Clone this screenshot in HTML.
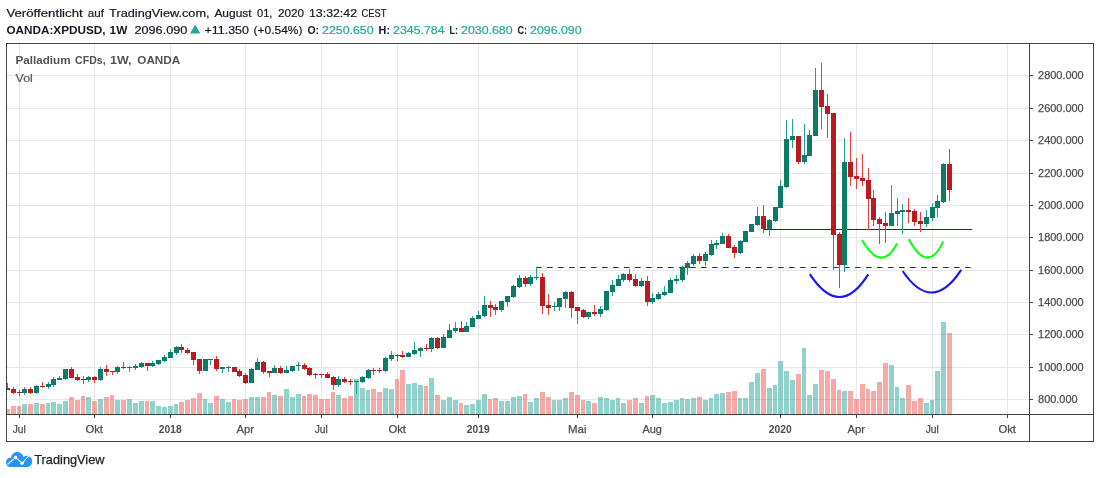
<!DOCTYPE html>
<html lang="de"><head><meta charset="utf-8"><title>Palladium CFDs, 1W, OANDA</title>
<style>html,body{margin:0;padding:0;background:#fff}body{width:1100px;height:478px;overflow:hidden}</style>
</head><body>
<svg width="1100" height="478" viewBox="0 0 1100 478" style="display:block;font-family:'Liberation Sans', sans-serif;will-change:transform">
<rect width="1100" height="478" fill="#fff"/>
<g fill="#e7e7e7" shape-rendering="crispEdges">
<rect x="7" y="75" width="1022" height="1"/>
<rect x="7" y="108" width="1022" height="1"/>
<rect x="7" y="140" width="1022" height="1"/>
<rect x="7" y="173" width="1022" height="1"/>
<rect x="7" y="205" width="1022" height="1"/>
<rect x="7" y="237" width="1022" height="1"/>
<rect x="7" y="270" width="1022" height="1"/>
<rect x="7" y="302" width="1022" height="1"/>
<rect x="7" y="334" width="1022" height="1"/>
<rect x="7" y="367" width="1022" height="1"/>
<rect x="7" y="399" width="1022" height="1"/>
<rect x="19" y="44" width="1" height="370"/>
<rect x="94" y="44" width="1" height="370"/>
<rect x="170" y="44" width="1" height="370"/>
<rect x="245" y="44" width="1" height="370"/>
<rect x="321" y="44" width="1" height="370"/>
<rect x="397" y="44" width="1" height="370"/>
<rect x="478" y="44" width="1" height="370"/>
<rect x="577" y="44" width="1" height="370"/>
<rect x="652" y="44" width="1" height="370"/>
<rect x="780" y="44" width="1" height="370"/>
<rect x="856" y="44" width="1" height="370"/>
<rect x="932" y="44" width="1" height="370"/>
<rect x="1007" y="44" width="1" height="370"/>
</g>
<g shape-rendering="crispEdges">
<rect x="7" y="409" width="3" height="5" fill="rgba(239,83,80,0.5)"/>
<rect x="11" y="406" width="5" height="8" fill="rgba(239,83,80,0.5)"/>
<rect x="17" y="406" width="4" height="8" fill="rgba(239,83,80,0.5)"/>
<rect x="22" y="404" width="5" height="10" fill="rgba(38,166,154,0.5)"/>
<rect x="28" y="404" width="5" height="10" fill="rgba(239,83,80,0.5)"/>
<rect x="34" y="403" width="5" height="11" fill="rgba(38,166,154,0.5)"/>
<rect x="40" y="404" width="5" height="10" fill="rgba(239,83,80,0.5)"/>
<rect x="46" y="403" width="4" height="11" fill="rgba(38,166,154,0.5)"/>
<rect x="51" y="402" width="5" height="12" fill="rgba(38,166,154,0.5)"/>
<rect x="57" y="404" width="5" height="10" fill="rgba(38,166,154,0.5)"/>
<rect x="63" y="401" width="5" height="13" fill="rgba(38,166,154,0.5)"/>
<rect x="69" y="397" width="5" height="17" fill="rgba(239,83,80,0.5)"/>
<rect x="75" y="400" width="5" height="14" fill="rgba(239,83,80,0.5)"/>
<rect x="81" y="396" width="4" height="18" fill="rgba(239,83,80,0.5)"/>
<rect x="86" y="397" width="5" height="17" fill="rgba(38,166,154,0.5)"/>
<rect x="92" y="401" width="5" height="13" fill="rgba(239,83,80,0.5)"/>
<rect x="98" y="399" width="5" height="15" fill="rgba(38,166,154,0.5)"/>
<rect x="104" y="397" width="5" height="17" fill="rgba(239,83,80,0.5)"/>
<rect x="110" y="395" width="4" height="19" fill="rgba(239,83,80,0.5)"/>
<rect x="115" y="400" width="5" height="14" fill="rgba(38,166,154,0.5)"/>
<rect x="121" y="400" width="5" height="14" fill="rgba(239,83,80,0.5)"/>
<rect x="127" y="399" width="5" height="15" fill="rgba(38,166,154,0.5)"/>
<rect x="133" y="403" width="5" height="11" fill="rgba(38,166,154,0.5)"/>
<rect x="139" y="401" width="5" height="13" fill="rgba(38,166,154,0.5)"/>
<rect x="145" y="401" width="4" height="13" fill="rgba(239,83,80,0.5)"/>
<rect x="150" y="401" width="5" height="13" fill="rgba(38,166,154,0.5)"/>
<rect x="156" y="406" width="5" height="8" fill="rgba(38,166,154,0.5)"/>
<rect x="162" y="407" width="5" height="7" fill="rgba(38,166,154,0.5)"/>
<rect x="168" y="406" width="5" height="8" fill="rgba(38,166,154,0.5)"/>
<rect x="174" y="404" width="4" height="10" fill="rgba(38,166,154,0.5)"/>
<rect x="179" y="402" width="5" height="12" fill="rgba(239,83,80,0.5)"/>
<rect x="185" y="400" width="5" height="14" fill="rgba(239,83,80,0.5)"/>
<rect x="191" y="398" width="5" height="16" fill="rgba(239,83,80,0.5)"/>
<rect x="197" y="393" width="5" height="21" fill="rgba(239,83,80,0.5)"/>
<rect x="203" y="399" width="4" height="15" fill="rgba(38,166,154,0.5)"/>
<rect x="208" y="403" width="5" height="11" fill="rgba(38,166,154,0.5)"/>
<rect x="214" y="396" width="5" height="18" fill="rgba(239,83,80,0.5)"/>
<rect x="220" y="399" width="5" height="15" fill="rgba(38,166,154,0.5)"/>
<rect x="226" y="402" width="5" height="12" fill="rgba(38,166,154,0.5)"/>
<rect x="232" y="399" width="4" height="15" fill="rgba(239,83,80,0.5)"/>
<rect x="237" y="400" width="5" height="14" fill="rgba(239,83,80,0.5)"/>
<rect x="243" y="399" width="5" height="15" fill="rgba(239,83,80,0.5)"/>
<rect x="249" y="397" width="5" height="17" fill="rgba(38,166,154,0.5)"/>
<rect x="255" y="397" width="5" height="17" fill="rgba(38,166,154,0.5)"/>
<rect x="261" y="397" width="5" height="17" fill="rgba(239,83,80,0.5)"/>
<rect x="267" y="392" width="4" height="22" fill="rgba(239,83,80,0.5)"/>
<rect x="272" y="395" width="5" height="19" fill="rgba(38,166,154,0.5)"/>
<rect x="278" y="396" width="5" height="18" fill="rgba(239,83,80,0.5)"/>
<rect x="284" y="389" width="5" height="25" fill="rgba(38,166,154,0.5)"/>
<rect x="290" y="397" width="5" height="17" fill="rgba(38,166,154,0.5)"/>
<rect x="296" y="394" width="5" height="20" fill="rgba(38,166,154,0.5)"/>
<rect x="302" y="396" width="4" height="18" fill="rgba(239,83,80,0.5)"/>
<rect x="307" y="394" width="5" height="20" fill="rgba(239,83,80,0.5)"/>
<rect x="313" y="395" width="5" height="19" fill="rgba(239,83,80,0.5)"/>
<rect x="319" y="399" width="5" height="15" fill="rgba(239,83,80,0.5)"/>
<rect x="325" y="399" width="5" height="15" fill="rgba(239,83,80,0.5)"/>
<rect x="331" y="392" width="4" height="22" fill="rgba(239,83,80,0.5)"/>
<rect x="336" y="395" width="5" height="19" fill="rgba(38,166,154,0.5)"/>
<rect x="342" y="398" width="5" height="16" fill="rgba(239,83,80,0.5)"/>
<rect x="348" y="396" width="5" height="18" fill="rgba(239,83,80,0.5)"/>
<rect x="354" y="379" width="5" height="35" fill="rgba(38,166,154,0.5)"/>
<rect x="360" y="388" width="5" height="26" fill="rgba(38,166,154,0.5)"/>
<rect x="366" y="390" width="4" height="24" fill="rgba(38,166,154,0.5)"/>
<rect x="371" y="389" width="5" height="25" fill="rgba(239,83,80,0.5)"/>
<rect x="377" y="392" width="5" height="22" fill="rgba(239,83,80,0.5)"/>
<rect x="383" y="388" width="5" height="26" fill="rgba(38,166,154,0.5)"/>
<rect x="389" y="389" width="5" height="25" fill="rgba(38,166,154,0.5)"/>
<rect x="395" y="379" width="4" height="35" fill="rgba(239,83,80,0.5)"/>
<rect x="400" y="370" width="5" height="44" fill="rgba(239,83,80,0.5)"/>
<rect x="406" y="384" width="5" height="30" fill="rgba(38,166,154,0.5)"/>
<rect x="412" y="383" width="5" height="31" fill="rgba(38,166,154,0.5)"/>
<rect x="418" y="385" width="5" height="29" fill="rgba(38,166,154,0.5)"/>
<rect x="424" y="386" width="4" height="28" fill="rgba(239,83,80,0.5)"/>
<rect x="429" y="378" width="5" height="36" fill="rgba(38,166,154,0.5)"/>
<rect x="435" y="395" width="5" height="19" fill="rgba(239,83,80,0.5)"/>
<rect x="441" y="400" width="5" height="14" fill="rgba(38,166,154,0.5)"/>
<rect x="447" y="397" width="5" height="17" fill="rgba(38,166,154,0.5)"/>
<rect x="453" y="400" width="5" height="14" fill="rgba(38,166,154,0.5)"/>
<rect x="459" y="403" width="4" height="11" fill="rgba(239,83,80,0.5)"/>
<rect x="464" y="405" width="5" height="9" fill="rgba(38,166,154,0.5)"/>
<rect x="470" y="404" width="5" height="10" fill="rgba(38,166,154,0.5)"/>
<rect x="476" y="400" width="5" height="14" fill="rgba(38,166,154,0.5)"/>
<rect x="482" y="394" width="5" height="20" fill="rgba(38,166,154,0.5)"/>
<rect x="488" y="399" width="4" height="15" fill="rgba(239,83,80,0.5)"/>
<rect x="493" y="398" width="5" height="16" fill="rgba(239,83,80,0.5)"/>
<rect x="499" y="401" width="5" height="13" fill="rgba(38,166,154,0.5)"/>
<rect x="505" y="401" width="5" height="13" fill="rgba(38,166,154,0.5)"/>
<rect x="511" y="397" width="5" height="17" fill="rgba(38,166,154,0.5)"/>
<rect x="517" y="396" width="5" height="18" fill="rgba(38,166,154,0.5)"/>
<rect x="523" y="394" width="4" height="20" fill="rgba(239,83,80,0.5)"/>
<rect x="528" y="402" width="5" height="12" fill="rgba(38,166,154,0.5)"/>
<rect x="534" y="398" width="5" height="16" fill="rgba(38,166,154,0.5)"/>
<rect x="540" y="392" width="5" height="22" fill="rgba(239,83,80,0.5)"/>
<rect x="546" y="397" width="5" height="17" fill="rgba(239,83,80,0.5)"/>
<rect x="552" y="400" width="4" height="14" fill="rgba(38,166,154,0.5)"/>
<rect x="557" y="400" width="5" height="14" fill="rgba(38,166,154,0.5)"/>
<rect x="563" y="398" width="5" height="16" fill="rgba(38,166,154,0.5)"/>
<rect x="569" y="392" width="5" height="22" fill="rgba(239,83,80,0.5)"/>
<rect x="575" y="395" width="5" height="19" fill="rgba(239,83,80,0.5)"/>
<rect x="581" y="400" width="4" height="14" fill="rgba(239,83,80,0.5)"/>
<rect x="586" y="401" width="5" height="13" fill="rgba(38,166,154,0.5)"/>
<rect x="592" y="403" width="5" height="11" fill="rgba(239,83,80,0.5)"/>
<rect x="598" y="397" width="5" height="17" fill="rgba(38,166,154,0.5)"/>
<rect x="604" y="398" width="5" height="16" fill="rgba(38,166,154,0.5)"/>
<rect x="610" y="400" width="5" height="14" fill="rgba(38,166,154,0.5)"/>
<rect x="616" y="398" width="4" height="16" fill="rgba(38,166,154,0.5)"/>
<rect x="621" y="403" width="5" height="11" fill="rgba(38,166,154,0.5)"/>
<rect x="627" y="400" width="5" height="14" fill="rgba(239,83,80,0.5)"/>
<rect x="633" y="398" width="5" height="16" fill="rgba(239,83,80,0.5)"/>
<rect x="639" y="403" width="5" height="11" fill="rgba(38,166,154,0.5)"/>
<rect x="645" y="396" width="4" height="18" fill="rgba(239,83,80,0.5)"/>
<rect x="650" y="395" width="5" height="19" fill="rgba(38,166,154,0.5)"/>
<rect x="656" y="398" width="5" height="16" fill="rgba(38,166,154,0.5)"/>
<rect x="662" y="403" width="5" height="11" fill="rgba(38,166,154,0.5)"/>
<rect x="668" y="402" width="5" height="12" fill="rgba(38,166,154,0.5)"/>
<rect x="674" y="400" width="5" height="14" fill="rgba(38,166,154,0.5)"/>
<rect x="680" y="398" width="4" height="16" fill="rgba(38,166,154,0.5)"/>
<rect x="685" y="399" width="5" height="15" fill="rgba(38,166,154,0.5)"/>
<rect x="691" y="398" width="5" height="16" fill="rgba(38,166,154,0.5)"/>
<rect x="697" y="397" width="5" height="17" fill="rgba(239,83,80,0.5)"/>
<rect x="703" y="400" width="5" height="14" fill="rgba(38,166,154,0.5)"/>
<rect x="709" y="398" width="4" height="16" fill="rgba(38,166,154,0.5)"/>
<rect x="714" y="394" width="5" height="20" fill="rgba(38,166,154,0.5)"/>
<rect x="720" y="393" width="5" height="21" fill="rgba(38,166,154,0.5)"/>
<rect x="726" y="392" width="5" height="22" fill="rgba(239,83,80,0.5)"/>
<rect x="732" y="391" width="5" height="23" fill="rgba(239,83,80,0.5)"/>
<rect x="738" y="398" width="4" height="16" fill="rgba(38,166,154,0.5)"/>
<rect x="743" y="398" width="5" height="16" fill="rgba(38,166,154,0.5)"/>
<rect x="749" y="382" width="5" height="32" fill="rgba(38,166,154,0.5)"/>
<rect x="755" y="373" width="5" height="41" fill="rgba(38,166,154,0.5)"/>
<rect x="761" y="369" width="5" height="45" fill="rgba(239,83,80,0.5)"/>
<rect x="767" y="388" width="5" height="26" fill="rgba(38,166,154,0.5)"/>
<rect x="773" y="385" width="4" height="29" fill="rgba(38,166,154,0.5)"/>
<rect x="778" y="361" width="5" height="53" fill="rgba(38,166,154,0.5)"/>
<rect x="784" y="371" width="5" height="43" fill="rgba(38,166,154,0.5)"/>
<rect x="790" y="380" width="5" height="34" fill="rgba(38,166,154,0.5)"/>
<rect x="796" y="374" width="5" height="40" fill="rgba(239,83,80,0.5)"/>
<rect x="802" y="348" width="4" height="66" fill="rgba(38,166,154,0.5)"/>
<rect x="807" y="395" width="5" height="19" fill="rgba(38,166,154,0.5)"/>
<rect x="813" y="384" width="5" height="30" fill="rgba(38,166,154,0.5)"/>
<rect x="819" y="370" width="5" height="44" fill="rgba(239,83,80,0.5)"/>
<rect x="825" y="371" width="5" height="43" fill="rgba(239,83,80,0.5)"/>
<rect x="831" y="379" width="5" height="35" fill="rgba(239,83,80,0.5)"/>
<rect x="837" y="390" width="4" height="24" fill="rgba(239,83,80,0.5)"/>
<rect x="842" y="391" width="5" height="23" fill="rgba(38,166,154,0.5)"/>
<rect x="848" y="391" width="5" height="23" fill="rgba(239,83,80,0.5)"/>
<rect x="854" y="399" width="5" height="15" fill="rgba(239,83,80,0.5)"/>
<rect x="860" y="384" width="5" height="30" fill="rgba(239,83,80,0.5)"/>
<rect x="866" y="389" width="4" height="25" fill="rgba(239,83,80,0.5)"/>
<rect x="871" y="391" width="5" height="23" fill="rgba(239,83,80,0.5)"/>
<rect x="877" y="382" width="5" height="32" fill="rgba(239,83,80,0.5)"/>
<rect x="883" y="363" width="5" height="51" fill="rgba(239,83,80,0.5)"/>
<rect x="889" y="365" width="5" height="49" fill="rgba(38,166,154,0.5)"/>
<rect x="895" y="387" width="4" height="27" fill="rgba(38,166,154,0.5)"/>
<rect x="900" y="398" width="5" height="16" fill="rgba(38,166,154,0.5)"/>
<rect x="906" y="385" width="5" height="29" fill="rgba(239,83,80,0.5)"/>
<rect x="912" y="401" width="5" height="13" fill="rgba(239,83,80,0.5)"/>
<rect x="918" y="398" width="5" height="16" fill="rgba(239,83,80,0.5)"/>
<rect x="924" y="403" width="5" height="11" fill="rgba(38,166,154,0.5)"/>
<rect x="930" y="400" width="4" height="14" fill="rgba(38,166,154,0.5)"/>
<rect x="935" y="371" width="5" height="43" fill="rgba(38,166,154,0.5)"/>
<rect x="941" y="322" width="5" height="92" fill="rgba(38,166,154,0.5)"/>
<rect x="947" y="333" width="5" height="81" fill="rgba(239,83,80,0.5)"/>
</g>
<line x1="536" y1="267.5" x2="971" y2="267.5" stroke="#1414ff" stroke-width="1.2" stroke-dasharray="5.6 5.4"/>
<line x1="763.5" y1="229.5" x2="972.3" y2="229.5" stroke="#1414ff" stroke-width="1.15"/>
<path d="M809.8 274.1 Q839.8 319.8 868.2 274.4" fill="none" stroke="#1414ff" stroke-width="2.1" stroke-linecap="butt"/>
<path d="M902.6 271.0 Q931.9 314.6 961.2 269.9" fill="none" stroke="#1414ff" stroke-width="2.1" stroke-linecap="butt"/>
<path d="M862.0 240.1 Q881.2 273.5 897.1 243.4" fill="none" stroke="#14ff14" stroke-width="2.1" stroke-linecap="butt"/>
<path d="M908.8 239.2 Q927.8 274.9 943.3 241.4" fill="none" stroke="#14ff14" stroke-width="2.1" stroke-linecap="butt"/>
<g shape-rendering="crispEdges">
<rect x="7" y="383" width="1" height="7" fill="#ef3b3b"/>
<rect x="7" y="388" width="3" height="2" fill="#bb1a1e"/>
<rect x="13" y="387" width="1" height="7" fill="#ef3b3b"/>
<rect x="11" y="389" width="5" height="4" fill="#bb1a1e"/>
<rect x="19" y="390" width="1" height="6" fill="#ef3b3b"/>
<rect x="17" y="392" width="5" height="1" fill="#bb1a1e"/>
<rect x="24" y="387" width="1" height="8" fill="#20a093"/>
<rect x="22" y="389" width="5" height="4" fill="#0b7c68"/>
<rect x="30" y="387" width="1" height="7" fill="#ef3b3b"/>
<rect x="28" y="389" width="5" height="4" fill="#bb1a1e"/>
<rect x="36" y="385" width="1" height="9" fill="#20a093"/>
<rect x="34" y="386" width="5" height="7" fill="#0b7c68"/>
<rect x="42" y="382" width="1" height="6" fill="#ef3b3b"/>
<rect x="40" y="386" width="5" height="1" fill="#bb1a1e"/>
<rect x="48" y="382" width="1" height="7" fill="#20a093"/>
<rect x="46" y="384" width="5" height="3" fill="#0b7c68"/>
<rect x="53" y="377" width="1" height="10" fill="#20a093"/>
<rect x="51" y="379" width="5" height="6" fill="#0b7c68"/>
<rect x="59" y="376" width="1" height="4" fill="#20a093"/>
<rect x="57" y="378" width="5" height="2" fill="#0b7c68"/>
<rect x="65" y="369" width="1" height="11" fill="#20a093"/>
<rect x="63" y="369" width="5" height="10" fill="#0b7c68"/>
<rect x="71" y="367" width="1" height="11" fill="#ef3b3b"/>
<rect x="69" y="369" width="5" height="9" fill="#bb1a1e"/>
<rect x="77" y="374" width="1" height="7" fill="#ef3b3b"/>
<rect x="75" y="377" width="5" height="3" fill="#bb1a1e"/>
<rect x="83" y="376" width="1" height="8" fill="#ef3b3b"/>
<rect x="81" y="379" width="5" height="1" fill="#bb1a1e"/>
<rect x="88" y="376" width="1" height="6" fill="#20a093"/>
<rect x="86" y="377" width="5" height="3" fill="#0b7c68"/>
<rect x="94" y="376" width="1" height="7" fill="#ef3b3b"/>
<rect x="92" y="377" width="5" height="3" fill="#bb1a1e"/>
<rect x="100" y="367" width="1" height="14" fill="#20a093"/>
<rect x="98" y="369" width="5" height="11" fill="#0b7c68"/>
<rect x="106" y="365" width="1" height="11" fill="#ef3b3b"/>
<rect x="104" y="369" width="5" height="3" fill="#bb1a1e"/>
<rect x="112" y="371" width="1" height="4" fill="#ef3b3b"/>
<rect x="110" y="371" width="5" height="1" fill="#bb1a1e"/>
<rect x="117" y="366" width="1" height="8" fill="#20a093"/>
<rect x="115" y="367" width="5" height="5" fill="#0b7c68"/>
<rect x="123" y="362" width="1" height="7" fill="#ef3b3b"/>
<rect x="121" y="367" width="5" height="1" fill="#bb1a1e"/>
<rect x="129" y="366" width="1" height="6" fill="#20a093"/>
<rect x="127" y="367" width="5" height="1" fill="#0b7c68"/>
<rect x="135" y="364" width="1" height="6" fill="#20a093"/>
<rect x="133" y="366" width="5" height="2" fill="#0b7c68"/>
<rect x="141" y="362" width="1" height="6" fill="#20a093"/>
<rect x="139" y="363" width="5" height="4" fill="#0b7c68"/>
<rect x="147" y="363" width="1" height="8" fill="#ef3b3b"/>
<rect x="145" y="363" width="5" height="3" fill="#bb1a1e"/>
<rect x="152" y="361" width="1" height="6" fill="#20a093"/>
<rect x="150" y="363" width="5" height="3" fill="#0b7c68"/>
<rect x="158" y="360" width="1" height="5" fill="#20a093"/>
<rect x="156" y="360" width="5" height="4" fill="#0b7c68"/>
<rect x="164" y="355" width="1" height="7" fill="#20a093"/>
<rect x="162" y="357" width="5" height="4" fill="#0b7c68"/>
<rect x="170" y="349" width="1" height="9" fill="#20a093"/>
<rect x="168" y="352" width="5" height="6" fill="#0b7c68"/>
<rect x="176" y="346" width="1" height="9" fill="#20a093"/>
<rect x="174" y="347" width="5" height="6" fill="#0b7c68"/>
<rect x="181" y="344" width="1" height="9" fill="#ef3b3b"/>
<rect x="179" y="347" width="5" height="3" fill="#bb1a1e"/>
<rect x="187" y="348" width="1" height="6" fill="#ef3b3b"/>
<rect x="185" y="350" width="5" height="3" fill="#bb1a1e"/>
<rect x="193" y="352" width="1" height="13" fill="#ef3b3b"/>
<rect x="191" y="352" width="5" height="8" fill="#bb1a1e"/>
<rect x="199" y="359" width="1" height="15" fill="#ef3b3b"/>
<rect x="197" y="359" width="5" height="12" fill="#bb1a1e"/>
<rect x="205" y="359" width="1" height="12" fill="#20a093"/>
<rect x="203" y="359" width="5" height="12" fill="#0b7c68"/>
<rect x="210" y="359" width="1" height="6" fill="#20a093"/>
<rect x="208" y="359" width="5" height="1" fill="#0b7c68"/>
<rect x="216" y="356" width="1" height="15" fill="#ef3b3b"/>
<rect x="214" y="359" width="5" height="10" fill="#bb1a1e"/>
<rect x="222" y="367" width="1" height="6" fill="#20a093"/>
<rect x="220" y="367" width="5" height="2" fill="#0b7c68"/>
<rect x="228" y="366" width="1" height="6" fill="#20a093"/>
<rect x="226" y="367" width="5" height="1" fill="#0b7c68"/>
<rect x="234" y="367" width="1" height="5" fill="#ef3b3b"/>
<rect x="232" y="367" width="5" height="5" fill="#bb1a1e"/>
<rect x="239" y="369" width="1" height="8" fill="#ef3b3b"/>
<rect x="237" y="371" width="5" height="5" fill="#bb1a1e"/>
<rect x="245" y="373" width="1" height="11" fill="#ef3b3b"/>
<rect x="243" y="375" width="5" height="8" fill="#bb1a1e"/>
<rect x="251" y="368" width="1" height="15" fill="#20a093"/>
<rect x="249" y="369" width="5" height="14" fill="#0b7c68"/>
<rect x="257" y="358" width="1" height="12" fill="#20a093"/>
<rect x="255" y="362" width="5" height="8" fill="#0b7c68"/>
<rect x="263" y="361" width="1" height="13" fill="#ef3b3b"/>
<rect x="261" y="362" width="5" height="10" fill="#bb1a1e"/>
<rect x="269" y="371" width="1" height="6" fill="#ef3b3b"/>
<rect x="267" y="371" width="5" height="2" fill="#bb1a1e"/>
<rect x="274" y="365" width="1" height="8" fill="#20a093"/>
<rect x="272" y="368" width="5" height="5" fill="#0b7c68"/>
<rect x="280" y="366" width="1" height="8" fill="#ef3b3b"/>
<rect x="278" y="368" width="5" height="5" fill="#bb1a1e"/>
<rect x="286" y="366" width="1" height="7" fill="#20a093"/>
<rect x="284" y="370" width="5" height="3" fill="#0b7c68"/>
<rect x="292" y="366" width="1" height="6" fill="#20a093"/>
<rect x="290" y="366" width="5" height="5" fill="#0b7c68"/>
<rect x="298" y="362" width="1" height="9" fill="#20a093"/>
<rect x="296" y="365" width="5" height="1" fill="#0b7c68"/>
<rect x="304" y="363" width="1" height="7" fill="#ef3b3b"/>
<rect x="302" y="365" width="5" height="4" fill="#bb1a1e"/>
<rect x="309" y="367" width="1" height="9" fill="#ef3b3b"/>
<rect x="307" y="368" width="5" height="7" fill="#bb1a1e"/>
<rect x="315" y="373" width="1" height="6" fill="#ef3b3b"/>
<rect x="313" y="374" width="5" height="1" fill="#bb1a1e"/>
<rect x="321" y="374" width="1" height="4" fill="#ef3b3b"/>
<rect x="319" y="374" width="5" height="1" fill="#bb1a1e"/>
<rect x="327" y="372" width="1" height="6" fill="#ef3b3b"/>
<rect x="325" y="374" width="5" height="4" fill="#bb1a1e"/>
<rect x="333" y="376" width="1" height="14" fill="#ef3b3b"/>
<rect x="331" y="377" width="5" height="8" fill="#bb1a1e"/>
<rect x="338" y="376" width="1" height="11" fill="#20a093"/>
<rect x="336" y="379" width="5" height="6" fill="#0b7c68"/>
<rect x="344" y="377" width="1" height="6" fill="#ef3b3b"/>
<rect x="342" y="379" width="5" height="3" fill="#bb1a1e"/>
<rect x="350" y="379" width="1" height="6" fill="#ef3b3b"/>
<rect x="348" y="381" width="5" height="1" fill="#bb1a1e"/>
<rect x="356" y="381" width="1" height="13" fill="#20a093"/>
<rect x="354" y="381" width="5" height="1" fill="#0b7c68"/>
<rect x="362" y="376" width="1" height="7" fill="#20a093"/>
<rect x="360" y="377" width="5" height="5" fill="#0b7c68"/>
<rect x="368" y="369" width="1" height="10" fill="#20a093"/>
<rect x="366" y="370" width="5" height="8" fill="#0b7c68"/>
<rect x="373" y="368" width="1" height="7" fill="#ef3b3b"/>
<rect x="371" y="370" width="5" height="1" fill="#bb1a1e"/>
<rect x="379" y="368" width="1" height="5" fill="#ef3b3b"/>
<rect x="377" y="370" width="5" height="1" fill="#bb1a1e"/>
<rect x="385" y="357" width="1" height="15" fill="#20a093"/>
<rect x="383" y="358" width="5" height="13" fill="#0b7c68"/>
<rect x="391" y="351" width="1" height="10" fill="#20a093"/>
<rect x="389" y="355" width="5" height="4" fill="#0b7c68"/>
<rect x="397" y="354" width="1" height="7" fill="#ef3b3b"/>
<rect x="395" y="355" width="5" height="1" fill="#bb1a1e"/>
<rect x="402" y="351" width="1" height="7" fill="#ef3b3b"/>
<rect x="400" y="355" width="5" height="2" fill="#bb1a1e"/>
<rect x="408" y="352" width="1" height="5" fill="#20a093"/>
<rect x="406" y="353" width="5" height="4" fill="#0b7c68"/>
<rect x="414" y="342" width="1" height="13" fill="#20a093"/>
<rect x="412" y="350" width="5" height="4" fill="#0b7c68"/>
<rect x="420" y="347" width="1" height="10" fill="#20a093"/>
<rect x="418" y="348" width="5" height="3" fill="#0b7c68"/>
<rect x="426" y="344" width="1" height="7" fill="#ef3b3b"/>
<rect x="424" y="348" width="5" height="1" fill="#bb1a1e"/>
<rect x="431" y="337" width="1" height="15" fill="#20a093"/>
<rect x="429" y="338" width="5" height="11" fill="#0b7c68"/>
<rect x="437" y="337" width="1" height="12" fill="#ef3b3b"/>
<rect x="435" y="338" width="5" height="10" fill="#bb1a1e"/>
<rect x="443" y="334" width="1" height="14" fill="#20a093"/>
<rect x="441" y="337" width="5" height="11" fill="#0b7c68"/>
<rect x="449" y="324" width="1" height="14" fill="#20a093"/>
<rect x="447" y="330" width="5" height="8" fill="#0b7c68"/>
<rect x="455" y="322" width="1" height="11" fill="#20a093"/>
<rect x="453" y="328" width="5" height="3" fill="#0b7c68"/>
<rect x="461" y="321" width="1" height="11" fill="#ef3b3b"/>
<rect x="459" y="328" width="5" height="4" fill="#bb1a1e"/>
<rect x="466" y="322" width="1" height="10" fill="#20a093"/>
<rect x="464" y="326" width="5" height="6" fill="#0b7c68"/>
<rect x="472" y="316" width="1" height="11" fill="#20a093"/>
<rect x="470" y="318" width="5" height="9" fill="#0b7c68"/>
<rect x="478" y="311" width="1" height="8" fill="#20a093"/>
<rect x="476" y="315" width="5" height="4" fill="#0b7c68"/>
<rect x="484" y="296" width="1" height="21" fill="#20a093"/>
<rect x="482" y="305" width="5" height="11" fill="#0b7c68"/>
<rect x="490" y="301" width="1" height="16" fill="#ef3b3b"/>
<rect x="488" y="305" width="5" height="3" fill="#bb1a1e"/>
<rect x="495" y="304" width="1" height="11" fill="#ef3b3b"/>
<rect x="493" y="307" width="5" height="3" fill="#bb1a1e"/>
<rect x="501" y="301" width="1" height="11" fill="#20a093"/>
<rect x="499" y="301" width="5" height="9" fill="#0b7c68"/>
<rect x="507" y="296" width="1" height="11" fill="#20a093"/>
<rect x="505" y="296" width="5" height="6" fill="#0b7c68"/>
<rect x="513" y="285" width="1" height="13" fill="#20a093"/>
<rect x="511" y="286" width="5" height="11" fill="#0b7c68"/>
<rect x="519" y="275" width="1" height="13" fill="#20a093"/>
<rect x="517" y="278" width="5" height="9" fill="#0b7c68"/>
<rect x="525" y="276" width="1" height="11" fill="#ef3b3b"/>
<rect x="523" y="278" width="5" height="6" fill="#bb1a1e"/>
<rect x="530" y="275" width="1" height="11" fill="#20a093"/>
<rect x="528" y="277" width="5" height="7" fill="#0b7c68"/>
<rect x="536" y="267" width="1" height="13" fill="#20a093"/>
<rect x="534" y="277" width="5" height="1" fill="#0b7c68"/>
<rect x="542" y="273" width="1" height="41" fill="#ef3b3b"/>
<rect x="540" y="277" width="5" height="29" fill="#bb1a1e"/>
<rect x="548" y="294" width="1" height="21" fill="#ef3b3b"/>
<rect x="546" y="305" width="5" height="3" fill="#bb1a1e"/>
<rect x="554" y="302" width="1" height="9" fill="#20a093"/>
<rect x="552" y="306" width="5" height="1" fill="#0b7c68"/>
<rect x="559" y="298" width="1" height="13" fill="#20a093"/>
<rect x="557" y="298" width="5" height="9" fill="#0b7c68"/>
<rect x="565" y="291" width="1" height="17" fill="#20a093"/>
<rect x="563" y="292" width="5" height="7" fill="#0b7c68"/>
<rect x="571" y="291" width="1" height="27" fill="#ef3b3b"/>
<rect x="569" y="292" width="5" height="16" fill="#bb1a1e"/>
<rect x="577" y="307" width="1" height="17" fill="#ef3b3b"/>
<rect x="575" y="307" width="5" height="4" fill="#bb1a1e"/>
<rect x="583" y="309" width="1" height="9" fill="#ef3b3b"/>
<rect x="581" y="310" width="5" height="7" fill="#bb1a1e"/>
<rect x="588" y="312" width="1" height="7" fill="#20a093"/>
<rect x="586" y="312" width="5" height="5" fill="#0b7c68"/>
<rect x="594" y="305" width="1" height="11" fill="#ef3b3b"/>
<rect x="592" y="312" width="5" height="2" fill="#bb1a1e"/>
<rect x="600" y="306" width="1" height="11" fill="#20a093"/>
<rect x="598" y="309" width="5" height="5" fill="#0b7c68"/>
<rect x="606" y="291" width="1" height="20" fill="#20a093"/>
<rect x="604" y="291" width="5" height="19" fill="#0b7c68"/>
<rect x="612" y="280" width="1" height="16" fill="#20a093"/>
<rect x="610" y="285" width="5" height="7" fill="#0b7c68"/>
<rect x="618" y="275" width="1" height="11" fill="#20a093"/>
<rect x="616" y="279" width="5" height="7" fill="#0b7c68"/>
<rect x="623" y="273" width="1" height="9" fill="#20a093"/>
<rect x="621" y="274" width="5" height="6" fill="#0b7c68"/>
<rect x="629" y="269" width="1" height="13" fill="#ef3b3b"/>
<rect x="627" y="274" width="5" height="6" fill="#bb1a1e"/>
<rect x="635" y="274" width="1" height="13" fill="#ef3b3b"/>
<rect x="633" y="279" width="5" height="7" fill="#bb1a1e"/>
<rect x="641" y="278" width="1" height="9" fill="#20a093"/>
<rect x="639" y="281" width="5" height="5" fill="#0b7c68"/>
<rect x="647" y="276" width="1" height="30" fill="#ef3b3b"/>
<rect x="645" y="281" width="5" height="21" fill="#bb1a1e"/>
<rect x="652" y="293" width="1" height="11" fill="#20a093"/>
<rect x="650" y="298" width="5" height="4" fill="#0b7c68"/>
<rect x="658" y="292" width="1" height="8" fill="#20a093"/>
<rect x="656" y="294" width="5" height="5" fill="#0b7c68"/>
<rect x="664" y="286" width="1" height="10" fill="#20a093"/>
<rect x="662" y="292" width="5" height="3" fill="#0b7c68"/>
<rect x="670" y="278" width="1" height="15" fill="#20a093"/>
<rect x="668" y="280" width="5" height="13" fill="#0b7c68"/>
<rect x="676" y="275" width="1" height="9" fill="#20a093"/>
<rect x="674" y="279" width="5" height="2" fill="#0b7c68"/>
<rect x="682" y="266" width="1" height="16" fill="#20a093"/>
<rect x="680" y="268" width="5" height="12" fill="#0b7c68"/>
<rect x="687" y="261" width="1" height="14" fill="#20a093"/>
<rect x="685" y="263" width="5" height="5" fill="#0b7c68"/>
<rect x="693" y="254" width="1" height="12" fill="#20a093"/>
<rect x="691" y="256" width="5" height="8" fill="#0b7c68"/>
<rect x="699" y="253" width="1" height="11" fill="#ef3b3b"/>
<rect x="697" y="256" width="5" height="5" fill="#bb1a1e"/>
<rect x="705" y="252" width="1" height="14" fill="#20a093"/>
<rect x="703" y="254" width="5" height="7" fill="#0b7c68"/>
<rect x="711" y="240" width="1" height="16" fill="#20a093"/>
<rect x="709" y="244" width="5" height="11" fill="#0b7c68"/>
<rect x="716" y="240" width="1" height="9" fill="#20a093"/>
<rect x="714" y="243" width="5" height="2" fill="#0b7c68"/>
<rect x="722" y="233" width="1" height="11" fill="#20a093"/>
<rect x="720" y="236" width="5" height="8" fill="#0b7c68"/>
<rect x="728" y="234" width="1" height="14" fill="#ef3b3b"/>
<rect x="726" y="236" width="5" height="12" fill="#bb1a1e"/>
<rect x="734" y="245" width="1" height="13" fill="#ef3b3b"/>
<rect x="732" y="247" width="5" height="6" fill="#bb1a1e"/>
<rect x="740" y="240" width="1" height="14" fill="#20a093"/>
<rect x="738" y="241" width="5" height="12" fill="#0b7c68"/>
<rect x="745" y="231" width="1" height="11" fill="#20a093"/>
<rect x="743" y="231" width="5" height="11" fill="#0b7c68"/>
<rect x="751" y="224" width="1" height="8" fill="#20a093"/>
<rect x="749" y="224" width="5" height="8" fill="#0b7c68"/>
<rect x="757" y="207" width="1" height="19" fill="#20a093"/>
<rect x="755" y="216" width="5" height="9" fill="#0b7c68"/>
<rect x="763" y="205" width="1" height="28" fill="#ef3b3b"/>
<rect x="761" y="216" width="5" height="13" fill="#bb1a1e"/>
<rect x="769" y="219" width="1" height="17" fill="#20a093"/>
<rect x="767" y="220" width="5" height="9" fill="#0b7c68"/>
<rect x="775" y="207" width="1" height="15" fill="#20a093"/>
<rect x="773" y="207" width="5" height="14" fill="#0b7c68"/>
<rect x="780" y="180" width="1" height="28" fill="#20a093"/>
<rect x="778" y="186" width="5" height="22" fill="#0b7c68"/>
<rect x="786" y="120" width="1" height="68" fill="#20a093"/>
<rect x="784" y="139" width="5" height="48" fill="#0b7c68"/>
<rect x="792" y="119" width="1" height="29" fill="#20a093"/>
<rect x="790" y="136" width="5" height="4" fill="#0b7c68"/>
<rect x="798" y="136" width="1" height="28" fill="#ef3b3b"/>
<rect x="796" y="136" width="5" height="26" fill="#bb1a1e"/>
<rect x="804" y="124" width="1" height="40" fill="#20a093"/>
<rect x="802" y="155" width="5" height="7" fill="#0b7c68"/>
<rect x="809" y="130" width="1" height="26" fill="#20a093"/>
<rect x="807" y="135" width="5" height="21" fill="#0b7c68"/>
<rect x="815" y="68" width="1" height="68" fill="#20a093"/>
<rect x="813" y="90" width="5" height="46" fill="#0b7c68"/>
<rect x="821" y="63" width="1" height="66" fill="#ef3b3b"/>
<rect x="819" y="90" width="5" height="17" fill="#bb1a1e"/>
<rect x="827" y="94" width="1" height="44" fill="#ef3b3b"/>
<rect x="825" y="106" width="5" height="8" fill="#bb1a1e"/>
<rect x="833" y="113" width="1" height="157" fill="#ef3b3b"/>
<rect x="831" y="113" width="5" height="122" fill="#bb1a1e"/>
<rect x="839" y="232" width="1" height="56" fill="#ef3b3b"/>
<rect x="837" y="234" width="5" height="31" fill="#bb1a1e"/>
<rect x="844" y="138" width="1" height="134" fill="#20a093"/>
<rect x="842" y="162" width="5" height="103" fill="#0b7c68"/>
<rect x="850" y="132" width="1" height="54" fill="#ef3b3b"/>
<rect x="848" y="162" width="5" height="15" fill="#bb1a1e"/>
<rect x="856" y="158" width="1" height="31" fill="#ef3b3b"/>
<rect x="854" y="176" width="5" height="3" fill="#bb1a1e"/>
<rect x="862" y="154" width="1" height="32" fill="#ef3b3b"/>
<rect x="860" y="178" width="5" height="3" fill="#bb1a1e"/>
<rect x="868" y="168" width="1" height="62" fill="#ef3b3b"/>
<rect x="866" y="180" width="5" height="19" fill="#bb1a1e"/>
<rect x="873" y="190" width="1" height="36" fill="#ef3b3b"/>
<rect x="871" y="198" width="5" height="22" fill="#bb1a1e"/>
<rect x="879" y="217" width="1" height="27" fill="#ef3b3b"/>
<rect x="877" y="219" width="5" height="5" fill="#bb1a1e"/>
<rect x="885" y="212" width="1" height="31" fill="#ef3b3b"/>
<rect x="883" y="223" width="5" height="3" fill="#bb1a1e"/>
<rect x="891" y="185" width="1" height="41" fill="#20a093"/>
<rect x="889" y="213" width="5" height="13" fill="#0b7c68"/>
<rect x="897" y="198" width="1" height="28" fill="#20a093"/>
<rect x="895" y="211" width="5" height="3" fill="#0b7c68"/>
<rect x="902" y="204" width="1" height="30" fill="#20a093"/>
<rect x="900" y="210" width="5" height="2" fill="#0b7c68"/>
<rect x="908" y="198" width="1" height="25" fill="#ef3b3b"/>
<rect x="906" y="210" width="5" height="2" fill="#bb1a1e"/>
<rect x="914" y="209" width="1" height="17" fill="#ef3b3b"/>
<rect x="912" y="211" width="5" height="11" fill="#bb1a1e"/>
<rect x="920" y="212" width="1" height="20" fill="#ef3b3b"/>
<rect x="918" y="221" width="5" height="3" fill="#bb1a1e"/>
<rect x="926" y="210" width="1" height="17" fill="#20a093"/>
<rect x="924" y="217" width="5" height="7" fill="#0b7c68"/>
<rect x="932" y="203" width="1" height="18" fill="#20a093"/>
<rect x="930" y="207" width="5" height="11" fill="#0b7c68"/>
<rect x="937" y="195" width="1" height="22" fill="#20a093"/>
<rect x="935" y="201" width="5" height="7" fill="#0b7c68"/>
<rect x="943" y="163" width="1" height="40" fill="#20a093"/>
<rect x="941" y="164" width="5" height="38" fill="#0b7c68"/>
<rect x="949" y="149" width="1" height="52" fill="#ef3b3b"/>
<rect x="947" y="164" width="5" height="26" fill="#bb1a1e"/>
</g>
<g fill="#424242" shape-rendering="crispEdges">
<rect x="6" y="43" width="1088" height="1"/>
<rect x="6" y="441" width="1088" height="1"/>
<rect x="6" y="43" width="1" height="399"/>
<rect x="1093" y="43" width="1" height="399"/>
<rect x="1029" y="43" width="1" height="399"/>
<rect x="6" y="414" width="1088" height="1"/>
<rect x="1030" y="75" width="3" height="1"/>
<rect x="1030" y="108" width="3" height="1"/>
<rect x="1030" y="140" width="3" height="1"/>
<rect x="1030" y="173" width="3" height="1"/>
<rect x="1030" y="205" width="3" height="1"/>
<rect x="1030" y="237" width="3" height="1"/>
<rect x="1030" y="270" width="3" height="1"/>
<rect x="1030" y="302" width="3" height="1"/>
<rect x="1030" y="334" width="3" height="1"/>
<rect x="1030" y="367" width="3" height="1"/>
<rect x="1030" y="399" width="3" height="1"/>
<rect x="19" y="415" width="1" height="3"/>
<rect x="94" y="415" width="1" height="3"/>
<rect x="170" y="415" width="1" height="3"/>
<rect x="245" y="415" width="1" height="3"/>
<rect x="321" y="415" width="1" height="3"/>
<rect x="397" y="415" width="1" height="3"/>
<rect x="478" y="415" width="1" height="3"/>
<rect x="577" y="415" width="1" height="3"/>
<rect x="652" y="415" width="1" height="3"/>
<rect x="780" y="415" width="1" height="3"/>
<rect x="856" y="415" width="1" height="3"/>
<rect x="932" y="415" width="1" height="3"/>
<rect x="1007" y="415" width="1" height="3"/>
</g>
<text x="1038.1" y="78.9" font-size="11" font-weight="normal" fill="#4c4c4c" stroke="#4c4c4c" stroke-width="0.25" text-anchor="start" textLength="45.6" lengthAdjust="spacingAndGlyphs" xml:space="preserve">2800.000</text>
<text x="1038.1" y="111.9" font-size="11" font-weight="normal" fill="#4c4c4c" stroke="#4c4c4c" stroke-width="0.25" text-anchor="start" textLength="45.6" lengthAdjust="spacingAndGlyphs" xml:space="preserve">2600.000</text>
<text x="1038.1" y="143.9" font-size="11" font-weight="normal" fill="#4c4c4c" stroke="#4c4c4c" stroke-width="0.25" text-anchor="start" textLength="45.6" lengthAdjust="spacingAndGlyphs" xml:space="preserve">2400.000</text>
<text x="1038.1" y="176.9" font-size="11" font-weight="normal" fill="#4c4c4c" stroke="#4c4c4c" stroke-width="0.25" text-anchor="start" textLength="45.6" lengthAdjust="spacingAndGlyphs" xml:space="preserve">2200.000</text>
<text x="1038.1" y="208.9" font-size="11" font-weight="normal" fill="#4c4c4c" stroke="#4c4c4c" stroke-width="0.25" text-anchor="start" textLength="45.6" lengthAdjust="spacingAndGlyphs" xml:space="preserve">2000.000</text>
<text x="1038.1" y="240.9" font-size="11" font-weight="normal" fill="#4c4c4c" stroke="#4c4c4c" stroke-width="0.25" text-anchor="start" textLength="45.6" lengthAdjust="spacingAndGlyphs" xml:space="preserve">1800.000</text>
<text x="1038.1" y="273.9" font-size="11" font-weight="normal" fill="#4c4c4c" stroke="#4c4c4c" stroke-width="0.25" text-anchor="start" textLength="45.6" lengthAdjust="spacingAndGlyphs" xml:space="preserve">1600.000</text>
<text x="1038.1" y="305.9" font-size="11" font-weight="normal" fill="#4c4c4c" stroke="#4c4c4c" stroke-width="0.25" text-anchor="start" textLength="45.6" lengthAdjust="spacingAndGlyphs" xml:space="preserve">1400.000</text>
<text x="1038.1" y="337.9" font-size="11" font-weight="normal" fill="#4c4c4c" stroke="#4c4c4c" stroke-width="0.25" text-anchor="start" textLength="45.6" lengthAdjust="spacingAndGlyphs" xml:space="preserve">1200.000</text>
<text x="1038.1" y="370.9" font-size="11" font-weight="normal" fill="#4c4c4c" stroke="#4c4c4c" stroke-width="0.25" text-anchor="start" textLength="45.6" lengthAdjust="spacingAndGlyphs" xml:space="preserve">1000.000</text>
<text x="1038.1" y="402.9" font-size="11" font-weight="normal" fill="#4c4c4c" stroke="#4c4c4c" stroke-width="0.25" text-anchor="start" textLength="39.5" lengthAdjust="spacingAndGlyphs" xml:space="preserve">800.000</text>
<text x="12.649999999999999" y="432.5" font-size="11" font-weight="normal" fill="#4c4c4c" stroke="#4c4c4c" stroke-width="0.25" text-anchor="start" textLength="13.1" lengthAdjust="spacingAndGlyphs" xml:space="preserve">Jul</text>
<text x="85.4" y="432.5" font-size="11" font-weight="normal" fill="#4c4c4c" stroke="#4c4c4c" stroke-width="0.25" text-anchor="start" textLength="17.6" lengthAdjust="spacingAndGlyphs" xml:space="preserve">Okt</text>
<text x="158.79999999999998" y="432.5" font-size="10.5" font-weight="bold" fill="#4c4c4c" text-anchor="start" textLength="22.8" lengthAdjust="spacingAndGlyphs" xml:space="preserve">2018</text>
<text x="236.45" y="432.5" font-size="11" font-weight="normal" fill="#4c4c4c" stroke="#4c4c4c" stroke-width="0.25" text-anchor="start" textLength="17.5" lengthAdjust="spacingAndGlyphs" xml:space="preserve">Apr</text>
<text x="314.65" y="432.5" font-size="11" font-weight="normal" fill="#4c4c4c" stroke="#4c4c4c" stroke-width="0.25" text-anchor="start" textLength="13.1" lengthAdjust="spacingAndGlyphs" xml:space="preserve">Jul</text>
<text x="388.4" y="432.5" font-size="11" font-weight="normal" fill="#4c4c4c" stroke="#4c4c4c" stroke-width="0.25" text-anchor="start" textLength="17.6" lengthAdjust="spacingAndGlyphs" xml:space="preserve">Okt</text>
<text x="466.8" y="432.5" font-size="10.5" font-weight="bold" fill="#4c4c4c" text-anchor="start" textLength="22.8" lengthAdjust="spacingAndGlyphs" xml:space="preserve">2019</text>
<text x="567.95" y="432.5" font-size="11" font-weight="normal" fill="#4c4c4c" stroke="#4c4c4c" stroke-width="0.25" text-anchor="start" textLength="18.5" lengthAdjust="spacingAndGlyphs" xml:space="preserve">Mai</text>
<text x="642.45" y="432.5" font-size="11" font-weight="normal" fill="#4c4c4c" stroke="#4c4c4c" stroke-width="0.25" text-anchor="start" textLength="19.5" lengthAdjust="spacingAndGlyphs" xml:space="preserve">Aug</text>
<text x="768.8000000000001" y="432.5" font-size="10.5" font-weight="bold" fill="#4c4c4c" text-anchor="start" textLength="22.8" lengthAdjust="spacingAndGlyphs" xml:space="preserve">2020</text>
<text x="847.45" y="432.5" font-size="11" font-weight="normal" fill="#4c4c4c" stroke="#4c4c4c" stroke-width="0.25" text-anchor="start" textLength="17.5" lengthAdjust="spacingAndGlyphs" xml:space="preserve">Apr</text>
<text x="925.6500000000001" y="432.5" font-size="11" font-weight="normal" fill="#4c4c4c" stroke="#4c4c4c" stroke-width="0.25" text-anchor="start" textLength="13.1" lengthAdjust="spacingAndGlyphs" xml:space="preserve">Jul</text>
<text x="998.4000000000001" y="432.5" font-size="11" font-weight="normal" fill="#4c4c4c" stroke="#4c4c4c" stroke-width="0.25" text-anchor="start" textLength="17.6" lengthAdjust="spacingAndGlyphs" xml:space="preserve">Okt</text>
<text x="15.5" y="64.2" font-size="11.6" font-weight="bold" fill="#525252" text-anchor="start" textLength="55.0" lengthAdjust="spacingAndGlyphs" xml:space="preserve">Palladium</text>
<text x="75.1" y="64.2" font-size="11.6" font-weight="bold" fill="#525252" text-anchor="start" textLength="30.5" lengthAdjust="spacingAndGlyphs" xml:space="preserve">CFDs,</text>
<text x="110" y="64.2" font-size="11.6" font-weight="bold" fill="#525252" text-anchor="start" textLength="21.5" lengthAdjust="spacingAndGlyphs" xml:space="preserve">1W,</text>
<text x="137.3" y="64.2" font-size="11.6" font-weight="bold" fill="#525252" text-anchor="start" textLength="42.9" lengthAdjust="spacingAndGlyphs" xml:space="preserve">OANDA</text>
<text x="15.5" y="81.6" font-size="11.8" font-weight="normal" fill="#555" stroke="#555" stroke-width="0.2" text-anchor="start" textLength="17.4" lengthAdjust="spacingAndGlyphs" xml:space="preserve">Vol</text>
<text x="6.4" y="16.7" font-size="11.6" font-weight="normal" fill="#131722" stroke="#131722" stroke-width="0.2" text-anchor="start" textLength="76.3" lengthAdjust="spacingAndGlyphs" xml:space="preserve">Veröffentlicht</text>
<text x="87.8" y="16.7" font-size="11.6" font-weight="normal" fill="#131722" stroke="#131722" stroke-width="0.2" text-anchor="start" textLength="16.2" lengthAdjust="spacingAndGlyphs" xml:space="preserve">auf</text>
<text x="109.1" y="16.7" font-size="11.6" font-weight="normal" fill="#131722" stroke="#131722" stroke-width="0.2" text-anchor="start" textLength="100.5" lengthAdjust="spacingAndGlyphs" xml:space="preserve">TradingView.com,</text>
<text x="214.4" y="16.7" font-size="11.6" font-weight="normal" fill="#131722" stroke="#131722" stroke-width="0.2" text-anchor="start" textLength="37.2" lengthAdjust="spacingAndGlyphs" xml:space="preserve">August</text>
<text x="257" y="16.7" font-size="11.6" font-weight="normal" fill="#131722" stroke="#131722" stroke-width="0.2" text-anchor="start" textLength="15.4" lengthAdjust="spacingAndGlyphs" xml:space="preserve">01,</text>
<text x="278" y="16.7" font-size="11.6" font-weight="normal" fill="#131722" stroke="#131722" stroke-width="0.2" text-anchor="start" textLength="26" lengthAdjust="spacingAndGlyphs" xml:space="preserve">2020</text>
<text x="309" y="16.7" font-size="11.6" font-weight="normal" fill="#131722" stroke="#131722" stroke-width="0.2" text-anchor="start" textLength="48" lengthAdjust="spacingAndGlyphs" xml:space="preserve">13:32:42</text>
<text x="361.6" y="16.7" font-size="11.6" font-weight="normal" fill="#131722" stroke="#131722" stroke-width="0.2" text-anchor="start" textLength="25.0" lengthAdjust="spacingAndGlyphs" xml:space="preserve">CEST</text>
<text x="6.4" y="33.6" font-size="11.6" font-weight="bold" fill="#131722" text-anchor="start" textLength="99.1" lengthAdjust="spacingAndGlyphs" xml:space="preserve">OANDA:XPDUSD,</text>
<text x="109.6" y="33.6" font-size="11.6" font-weight="bold" fill="#131722" text-anchor="start" textLength="17.7" lengthAdjust="spacingAndGlyphs" xml:space="preserve">1W</text>
<text x="134.5" y="33.6" font-size="11.6" font-weight="normal" fill="#131722" stroke="#131722" stroke-width="0.2" text-anchor="start" textLength="52.8" lengthAdjust="spacingAndGlyphs" xml:space="preserve">2096.090</text>
<path d="M190 33.4 L200.4 33.4 L195.2 24.4 Z" fill="#26a69a"/>
<text x="204.4" y="33.6" font-size="11.6" font-weight="normal" fill="#131722" stroke="#131722" stroke-width="0.2" text-anchor="start" textLength="44.6" lengthAdjust="spacingAndGlyphs" xml:space="preserve">+11.350</text>
<text x="253.6" y="33.6" font-size="11.6" font-weight="normal" fill="#131722" stroke="#131722" stroke-width="0.2" text-anchor="start" textLength="48.8" lengthAdjust="spacingAndGlyphs" xml:space="preserve">(+0.54%)</text>
<text x="307.4" y="33.6" font-size="11.6" font-weight="bold" fill="#131722" text-anchor="start" textLength="11.6" lengthAdjust="spacingAndGlyphs" xml:space="preserve">O:</text>
<text x="322" y="33.6" font-size="11.6" font-weight="normal" fill="#26a69a" stroke="#26a69a" stroke-width="0.2" text-anchor="start" textLength="51.6" lengthAdjust="spacingAndGlyphs" xml:space="preserve">2250.650</text>
<text x="378.6" y="33.6" font-size="11.6" font-weight="bold" fill="#131722" text-anchor="start" textLength="11.4" lengthAdjust="spacingAndGlyphs" xml:space="preserve">H:</text>
<text x="393" y="33.6" font-size="11.6" font-weight="normal" fill="#26a69a" stroke="#26a69a" stroke-width="0.2" text-anchor="start" textLength="51.6" lengthAdjust="spacingAndGlyphs" xml:space="preserve">2345.784</text>
<text x="449.6" y="33.6" font-size="11.6" font-weight="bold" fill="#131722" text-anchor="start" textLength="8.4" lengthAdjust="spacingAndGlyphs" xml:space="preserve">L:</text>
<text x="461" y="33.6" font-size="11.6" font-weight="normal" fill="#26a69a" stroke="#26a69a" stroke-width="0.2" text-anchor="start" textLength="51.6" lengthAdjust="spacingAndGlyphs" xml:space="preserve">2030.680</text>
<text x="517.4" y="33.6" font-size="11.6" font-weight="bold" fill="#131722" text-anchor="start" textLength="9.6" lengthAdjust="spacingAndGlyphs" xml:space="preserve">C:</text>
<text x="530" y="33.6" font-size="11.6" font-weight="normal" fill="#26a69a" stroke="#26a69a" stroke-width="0.2" text-anchor="start" textLength="51.6" lengthAdjust="spacingAndGlyphs" xml:space="preserve">2096.090</text>
<g>
<path d="M9.8 466.9 C7.5 466.9 6 465 6 462.5 C6 460 7.6 458 9.6 457.7 C10.2 457.6 10.7 457.7 11.1 457.9 C11.3 454.5 13.9 452 17.2 452 C20.4 452 22.9 454 23.6 457.2 C24.4 456.3 25.5 455.8 26.7 455.8 C29.8 455.8 32.2 458.3 32.2 461.4 C32.2 464.5 29.9 466.9 26.8 466.9 Z" fill="#2196f3"/>
<path d="M7.4 464.5 L15.6 457.4 L22.1 463.3 L28.6 456" fill="none" stroke="#fff" stroke-width="1.1"/>
<circle cx="15.6" cy="457.5" r="1.7" fill="#fff"/><circle cx="22.1" cy="463.3" r="1.7" fill="#fff"/>
</g>
<text x="34.3" y="463.6" font-size="12.2" font-weight="normal" fill="#1e222d" stroke="#1e222d" stroke-width="0.25" text-anchor="start" textLength="70.2" lengthAdjust="spacingAndGlyphs" xml:space="preserve">TradingView</text>
</svg>
</body></html>
